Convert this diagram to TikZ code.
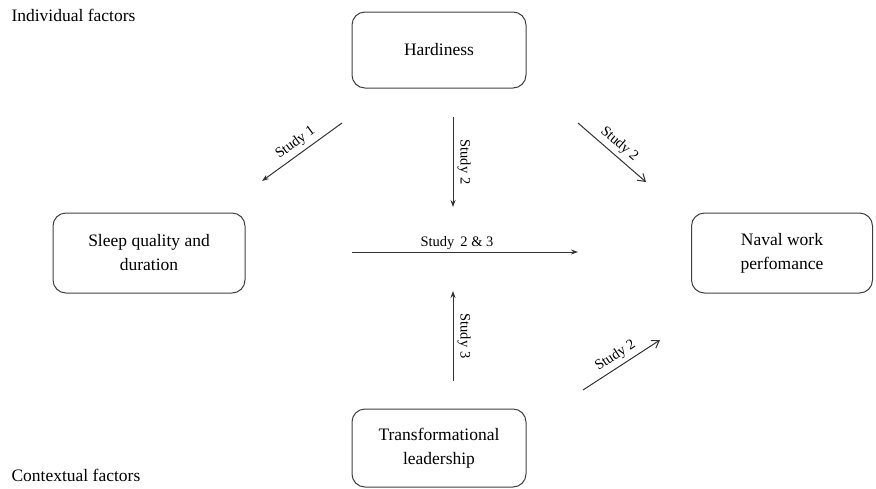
\documentclass[tikz,border=0pt]{standalone}
\usepackage{fontspec}
\setmainfont{Liberation Serif}
\usetikzlibrary{arrows.meta}

\tikzset{
    factor/.style={draw=black!75, line width=1pt, rounded corners=13pt, align=center,
        font=\rmfamily\fontsize{17.5}{24}\selectfont},
    study/.style={font=\rmfamily\fontsize{14.5}{17}\selectfont, inner sep=1pt},
    link/.style={draw=black!80, line width=1pt},
}

\begin{document}
\begin{tikzpicture}[x=1pt, y=-1pt]
        \useasboundingbox (0,0) rectangle (876,488);

        % boxes
        \node[factor, minimum width=174pt, minimum height=76pt] (hard) at (439,50) {Hardiness};
        \node[factor, minimum width=192pt, minimum height=80pt] (sleep) at (149,253) {Sleep quality and\\duration};
        \node[factor, minimum width=181pt, minimum height=80pt] (naval) at (782,253) {Naval work\\perfomance};
        \node[factor, minimum width=174pt, minimum height=78pt] (lead) at (439,448) {Transformational\\leadership};

        \node[anchor=west, font=\rmfamily\fontsize{17.5}{21}\selectfont] (indiv) at (8,15) {Individual factors};
        \node[anchor=west, font=\rmfamily\fontsize{17.5}{21}\selectfont] (context) at (8,475) {Contextual factors};

        % arrow ends
        \coordinate (s1a) at (342,123);  \coordinate (s1b) at (262,181);
        \coordinate (s2a) at (453,117);  \coordinate (s2b) at (453,207);
        \coordinate (s2c) at (578,123);  \coordinate (s2d) at (646,182);
        \coordinate (s23a) at (352,252); \coordinate (s23b) at (578,252);
        \coordinate (s3a) at (453,381);  \coordinate (s3b) at (453,291);
        \coordinate (s2e) at (583,390);  \coordinate (s2f) at (660,340);

        \draw [link, -{Stealth[length=7pt, width=5pt]}] (s1a) -- (s1b)
            node [study, midway, sloped, above=3pt] {Study 1};
        \draw [link, -{Stealth[length=7pt, width=5pt]}] (s2a) -- (s2b)
            node [study, midway, rotate=-90, yshift=11pt] {Study 2};
        \draw [link, -{Straight Barb[length=7pt, width=9pt]}] (s2c) -- (s2d)
            node [study, midway, sloped, above=3pt] {Study 2};
        \draw [link, -{Stealth[length=7pt, width=5pt]}] (s23a) -- (s23b)
            node [study, midway, above=1pt, xshift=-8pt] {Study\, 2 \& 3};
        \draw [link, -{Stealth[length=7pt, width=5pt]}] (s3a) -- (s3b)
            node [study, midway, rotate=-90, yshift=11pt] {Study 3};
        \draw [link, -{Straight Barb[length=7pt, width=9pt]}] (s2e) -- (s2f)
            node [study, midway, sloped, above=3pt] {Study 2};

    \end{tikzpicture}
\end{document}
